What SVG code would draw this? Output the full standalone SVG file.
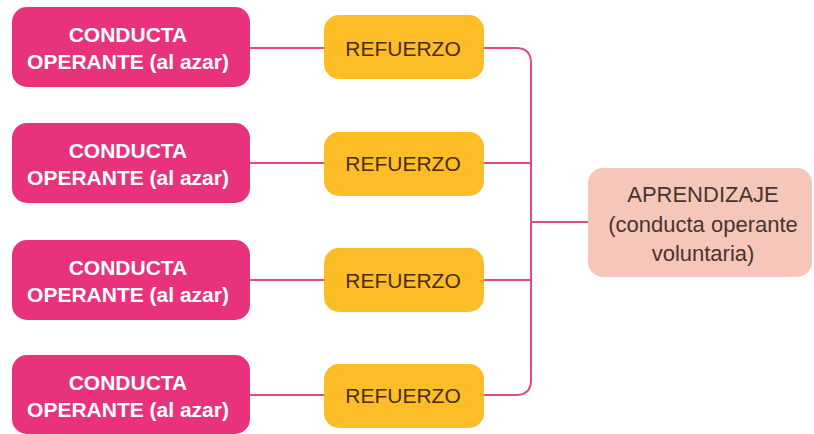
<svg xmlns="http://www.w3.org/2000/svg" width="814" height="434" viewBox="0 0 814 434">
<style>
.c{fill:#e8327c}
.r{fill:#fcbd26}
.a{fill:#f6c6bb}
.tc{font-family:"Liberation Sans",Arial,sans-serif;font-weight:bold;font-size:21px;fill:#fff;text-anchor:middle}
.tr{font-family:"Liberation Sans",Arial,sans-serif;font-size:21px;fill:#4a2c12;text-anchor:middle}
.ta{font-family:"Liberation Sans",Arial,sans-serif;font-size:22px;fill:#4a3430;text-anchor:middle}
.ln{fill:none;stroke:#e04a8a;stroke-width:2}
</style>
<rect width="814" height="434" fill="#fff"/>
<g id="connectors">
<line class="ln" x1="250" y1="48" x2="325" y2="48"/>
<line class="ln" x1="250" y1="163" x2="325" y2="163"/>
<line class="ln" x1="250" y1="280" x2="325" y2="280"/>
<line class="ln" x1="250" y1="395" x2="325" y2="395"/>
<path class="ln" d="M484 48 H516 Q531 48 531 63 V380 Q531 395 516 395 H484"/>
<line class="ln" x1="484" y1="163" x2="531" y2="163"/>
<line class="ln" x1="484" y1="280" x2="531" y2="280"/>
<line class="ln" x1="531" y1="222" x2="588" y2="222"/>
</g>
<g id="conducta1"><rect class="c" x="12" y="7" width="238" height="80" rx="15"/><text class="tc" x="128" y="42">CONDUCTA</text><text class="tc" x="128" y="69">OPERANTE (al azar)</text></g>
<g id="conducta2"><rect class="c" x="12" y="123" width="238" height="80" rx="15"/><text class="tc" x="128" y="158">CONDUCTA</text><text class="tc" x="128" y="185">OPERANTE (al azar)</text></g>
<g id="conducta3"><rect class="c" x="12" y="240" width="238" height="80" rx="15"/><text class="tc" x="128" y="275">CONDUCTA</text><text class="tc" x="128" y="302">OPERANTE (al azar)</text></g>
<g id="conducta4"><rect class="c" x="12" y="355" width="238" height="79" rx="15"/><text class="tc" x="128" y="390">CONDUCTA</text><text class="tc" x="128" y="417">OPERANTE (al azar)</text></g>
<g id="refuerzo1"><rect class="r" x="324" y="15" width="160" height="64" rx="15"/><text class="tr" x="403" y="56">REFUERZO</text></g>
<g id="refuerzo2"><rect class="r" x="324" y="132" width="160" height="64" rx="15"/><text class="tr" x="403" y="171">REFUERZO</text></g>
<g id="refuerzo3"><rect class="r" x="324" y="248" width="160" height="64" rx="15"/><text class="tr" x="403" y="288">REFUERZO</text></g>
<g id="refuerzo4"><rect class="r" x="324" y="364" width="160" height="64" rx="15"/><text class="tr" x="403" y="403">REFUERZO</text></g>
<g id="aprendizaje"><rect class="a" x="588" y="168" width="224" height="109" rx="15"/><text class="ta" x="703" y="202">APRENDIZAJE</text><text class="ta" x="703" y="232">(conducta operante</text><text class="ta" x="703" y="261">voluntaria)</text></g>
</svg>
